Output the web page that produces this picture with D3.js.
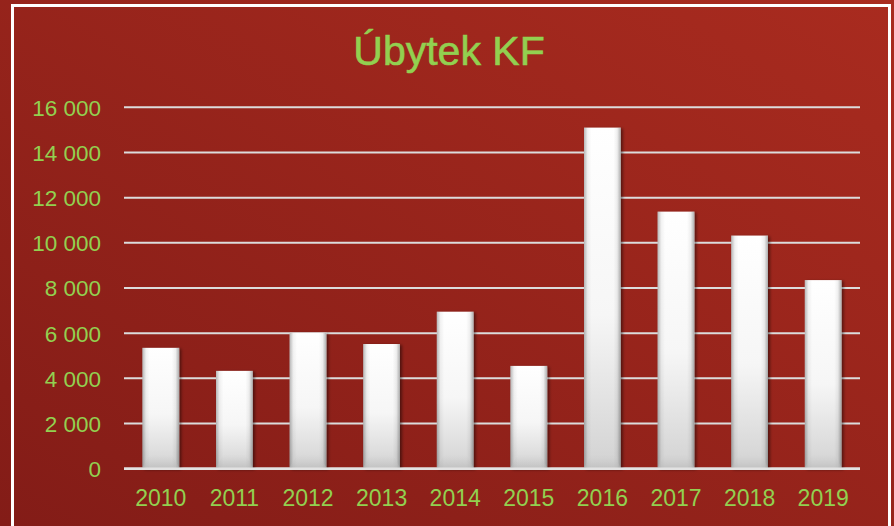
<!DOCTYPE html>
<html><head><meta charset="utf-8">
<script src="https://cdn.jsdelivr.net/npm/d3@7/dist/d3.min.js"></script>
<style>html,body{margin:0;padding:0;overflow:hidden;background:#961f19}</style>
</head><body>
<script>
const categories = ["2010","2011","2012","2013","2014","2015","2016","2017","2018","2019"];
const values = [5350, 4330, 6020, 5520, 6950, 4550, 15100, 11380, 10320, 8350];
const yTicks = [0, 2000, 4000, 6000, 8000, 10000, 12000, 14000, 16000];
const title = "Úbytek KF";

const W = 894, H = 526;
const svg = d3.select("body").append("svg").attr("width", W).attr("height", H);
const defs = svg.append("defs");

const bg = defs.append("linearGradient").attr("id","bg").attr("x1","100%").attr("y1","0%").attr("x2","0%").attr("y2","100%");
bg.append("stop").attr("offset","0%").attr("stop-color","#a92b1f");
bg.append("stop").attr("offset","100%").attr("stop-color","#831c17");

const bv = defs.append("linearGradient").attr("id","barV").attr("x1","0").attr("y1","0").attr("x2","0").attr("y2","1");
bv.append("stop").attr("offset","0%").attr("stop-color","#ffffff");
bv.append("stop").attr("offset","55%").attr("stop-color","#f6f6f6");
bv.append("stop").attr("offset","100%").attr("stop-color","#d2d2d2");

const bh = defs.append("linearGradient").attr("id","barH").attr("x1","0").attr("y1","0").attr("x2","1").attr("y2","0");
bh.append("stop").attr("offset","0%").attr("stop-color","#000").attr("stop-opacity",0.28);
bh.append("stop").attr("offset","10%").attr("stop-color","#000").attr("stop-opacity",0.05);
bh.append("stop").attr("offset","20%").attr("stop-color","#000").attr("stop-opacity",0);
bh.append("stop").attr("offset","80%").attr("stop-color","#000").attr("stop-opacity",0);
bh.append("stop").attr("offset","90%").attr("stop-color","#000").attr("stop-opacity",0.06);
bh.append("stop").attr("offset","100%").attr("stop-color","#000").attr("stop-opacity",0.32);

const bb = defs.append("linearGradient").attr("id","bevel").attr("x1","0").attr("y1","0").attr("x2","0").attr("y2","1");
bb.append("stop").attr("offset","0%").attr("stop-color","#c8c8c8").attr("stop-opacity",0);
bb.append("stop").attr("offset","100%").attr("stop-color","#b8b8b8").attr("stop-opacity",0.6);

const sh = defs.append("filter").attr("id","shadow").attr("x","-20%").attr("y","-5%").attr("width","150%").attr("height","115%");
sh.append("feDropShadow").attr("dx",2).attr("dy",1).attr("stdDeviation",1.5).attr("flood-color","#000").attr("flood-opacity",0.45);

svg.append("rect").attr("width",W).attr("height",H).attr("fill","url(#bg)");
svg.append("rect").attr("x",12.5).attr("y",5.5).attr("width",877).attr("height",560)
  .attr("fill","none").attr("stroke","#ffffff").attr("stroke-width",3);

const x = d3.scaleBand().domain(categories).range([124, 860]).paddingInner(0.5).paddingOuter(0.25);
const y = d3.scaleLinear().domain([0,16000]).range([468.7, 107.3]);

const green = "#92d050";
const font = "'Liberation Sans', Arial, sans-serif";
const fmt = v => d3.format(",")(v).replace(/,/g, " ");

// gridlines
svg.append("g").selectAll("line").data(yTicks).join("line")
  .attr("x1",124).attr("x2",860)
  .attr("y1",d=>y(d)).attr("y2",d=>y(d))
  .attr("stroke","#dcdcdc").attr("stroke-width",d=>d===0?2.5:2);

// y axis labels
const yAxis = d3.axisLeft(y).tickValues(yTicks).tickFormat(fmt).tickSize(0).tickPadding(0);
const gy = svg.append("g").attr("transform","translate(101,0)").call(yAxis);
gy.select(".domain").remove();
gy.selectAll("text").attr("fill",green).attr("font-family",font).attr("font-size",22.5).attr("dy","0.35em");

// x axis labels
const xAxis = d3.axisBottom(x).tickSize(0).tickPadding(0);
const gx = svg.append("g").attr("transform","translate(0,489.5)").call(xAxis);
gx.select(".domain").remove();
gx.selectAll("text").attr("fill",green).attr("font-family",font).attr("font-size",23).attr("dy","0.71em");

// bars
const bars = svg.append("g").selectAll("g").data(categories).join("g");
bars.append("rect")
  .attr("x",d=>x(d)).attr("y",(d,i)=>y(values[i]))
  .attr("width",x.bandwidth()).attr("height",(d,i)=>y(0)-y(values[i]))
  .attr("fill","url(#barV)").attr("filter","url(#shadow)");
bars.append("rect")
  .attr("x",d=>x(d)).attr("y",(d,i)=>y(values[i]))
  .attr("width",x.bandwidth()).attr("height",(d,i)=>y(0)-y(values[i]))
  .attr("fill","url(#barH)");
// bottom bevel
bars.append("path")
  .attr("d",(d,i)=>{
    const x0=x(d), x1=x(d)+x.bandwidth(), yb=y(0)-1, bw=x.bandwidth();
    return `M${x0},${yb} L${x0+bw*0.2},${yb-13} L${x1-bw*0.2},${yb-13} L${x1},${yb} Z`;
  })
  .attr("fill","url(#bevel)");
// zero line over bars
svg.append("line").attr("x1",124).attr("x2",860).attr("y1",y(0)).attr("y2",y(0))
  .attr("stroke","#e2e2e2").attr("stroke-width",2.5);

svg.append("text").attr("x",449).attr("y",65).attr("text-anchor","middle")
  .attr("fill",green).attr("stroke",green).attr("stroke-width",0.6)
  .attr("font-family",font).attr("font-size",41).text(title);
</script>
</body></html>
